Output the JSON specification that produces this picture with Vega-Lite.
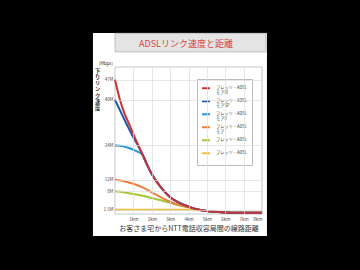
{
  "$schema": "https://vega.github.io/schema/vega-lite/v6.json",
  "width": 147,
  "height": 147,
  "autosize": {"type": "none"},
  "padding": {"left": 115, "top": 67, "right": 98, "bottom": 56},
  "background": "#000000",
  "config": {"font": "Noto Sans CJK JP", "view": {"stroke": null}, "axis": {"labelOverlap": false}},
  "layer": [
    {
      "data": {"values": [{}]},
      "mark": {"type": "rect", "fill": "#ffffff", "clip": false},
      "encoding": {
        "x": {"datum": -1.2, "type": "quantitative", "scale": {"domain": [0, 8], "nice": false, "zero": false}},
        "x2": {"datum": 8.27},
        "y": {"datum": -7.7, "type": "quantitative", "scale": {"domain": [0, 51.5], "nice": false}},
        "y2": {"datum": 63.4}
      }
    },
    {
      "data": {"values": [{}]},
      "mark": {"type": "rect", "fill": "#e4e4e4", "stroke": "#b0b0b0", "strokeWidth": 0.8, "clip": false},
      "encoding": {
        "x": {"datum": 0, "type": "quantitative", "scale": {"domain": [0, 8], "nice": false, "zero": false}},
        "x2": {"datum": 8.22},
        "y": {"datum": 56.8, "type": "quantitative", "scale": {"domain": [0, 51.5], "nice": false}},
        "y2": {"datum": 63.3}
      }
    },
    {
      "data": {"values": [{}]},
      "mark": {"type": "rect", "fill": "#ffffff", "stroke": "#b8b8b8", "strokeWidth": 0.8, "clip": false},
      "encoding": {
        "x": {"datum": 0, "type": "quantitative", "scale": {"domain": [0, 8], "nice": false, "zero": false}},
        "x2": {"datum": 8},
        "y": {"datum": 0, "type": "quantitative", "scale": {"domain": [0, 51.5], "nice": false}},
        "y2": {"datum": 51.5}
      }
    },
    {
      "data": {
        "values": [
          {"s": "1.5M", "km": 0, "v": 1.5}, {"s": "1.5M", "km": 1, "v": 1.5}, {"s": "1.5M", "km": 2, "v": 1.5}, {"s": "1.5M", "km": 3, "v": 1.5}, {"s": "1.5M", "km": 4, "v": 1.45}, {"s": "1.5M", "km": 4.5, "v": 1.35}, {"s": "1.5M", "km": 5, "v": 1.05}, {"s": "1.5M", "km": 5.5, "v": 0.75}, {"s": "1.5M", "km": 6, "v": 0.55}, {"s": "1.5M", "km": 7, "v": 0.45}, {"s": "1.5M", "km": 8, "v": 0.4},
          {"s": "8M", "km": 0, "v": 8}, {"s": "8M", "km": 0.5, "v": 7.6}, {"s": "8M", "km": 1, "v": 7.0}, {"s": "8M", "km": 1.5, "v": 6.4}, {"s": "8M", "km": 2, "v": 5.6}, {"s": "8M", "km": 2.5, "v": 4.8}, {"s": "8M", "km": 3, "v": 3.9}, {"s": "8M", "km": 3.5, "v": 3.0}, {"s": "8M", "km": 4, "v": 2.3}, {"s": "8M", "km": 4.5, "v": 1.6}, {"s": "8M", "km": 5, "v": 1.05}, {"s": "8M", "km": 5.5, "v": 0.75}, {"s": "8M", "km": 6, "v": 0.55}, {"s": "8M", "km": 7, "v": 0.45}, {"s": "8M", "km": 8, "v": 0.4},
          {"s": "12M", "km": 0, "v": 12}, {"s": "12M", "km": 0.5, "v": 11.5}, {"s": "12M", "km": 1, "v": 10.6}, {"s": "12M", "km": 1.5, "v": 9.3}, {"s": "12M", "km": 2, "v": 7.6}, {"s": "12M", "km": 2.5, "v": 5.8}, {"s": "12M", "km": 3, "v": 4.3}, {"s": "12M", "km": 3.5, "v": 3.1}, {"s": "12M", "km": 4, "v": 2.4}, {"s": "12M", "km": 4.5, "v": 1.6}, {"s": "12M", "km": 5, "v": 1.05}, {"s": "12M", "km": 5.5, "v": 0.75}, {"s": "12M", "km": 6, "v": 0.55}, {"s": "12M", "km": 7, "v": 0.45}, {"s": "12M", "km": 8, "v": 0.4},
          {"s": "24M", "km": 0, "v": 24}, {"s": "24M", "km": 0.25, "v": 23.9}, {"s": "24M", "km": 0.5, "v": 23.6}, {"s": "24M", "km": 0.75, "v": 23.1}, {"s": "24M", "km": 1, "v": 22.5}, {"s": "24M", "km": 1.25, "v": 21.8}, {"s": "24M", "km": 1.5, "v": 20.8}, {"s": "24M", "km": 1.75, "v": 17.2}, {"s": "24M", "km": 2, "v": 14}, {"s": "24M", "km": 2.5, "v": 9.3}, {"s": "24M", "km": 3, "v": 5.9}, {"s": "24M", "km": 3.5, "v": 3.9}, {"s": "24M", "km": 4, "v": 2.6}, {"s": "24M", "km": 4.5, "v": 1.6}, {"s": "24M", "km": 5, "v": 1.05}, {"s": "24M", "km": 5.5, "v": 0.75}, {"s": "24M", "km": 6, "v": 0.55}, {"s": "24M", "km": 7, "v": 0.45}, {"s": "24M", "km": 8, "v": 0.4},
          {"s": "40M", "km": 0, "v": 40}, {"s": "40M", "km": 0.35, "v": 35.3}, {"s": "40M", "km": 0.7, "v": 30.6}, {"s": "40M", "km": 1, "v": 26.8}, {"s": "40M", "km": 1.2, "v": 24.6}, {"s": "40M", "km": 1.5, "v": 20.8}, {"s": "40M", "km": 1.75, "v": 17.2}, {"s": "40M", "km": 2, "v": 14}, {"s": "40M", "km": 2.5, "v": 9.3}, {"s": "40M", "km": 3, "v": 5.9}, {"s": "40M", "km": 3.5, "v": 3.9}, {"s": "40M", "km": 4, "v": 2.6}, {"s": "40M", "km": 4.5, "v": 1.6}, {"s": "40M", "km": 5, "v": 1.05}, {"s": "40M", "km": 5.5, "v": 0.75}, {"s": "40M", "km": 6, "v": 0.55}, {"s": "40M", "km": 7, "v": 0.45}, {"s": "40M", "km": 8, "v": 0.4},
          {"s": "47M", "km": 0, "v": 47}, {"s": "47M", "km": 0.25, "v": 40.5}, {"s": "47M", "km": 0.5, "v": 35.5}, {"s": "47M", "km": 0.75, "v": 31.8}, {"s": "47M", "km": 1, "v": 28}, {"s": "47M", "km": 1.25, "v": 24.3}, {"s": "47M", "km": 1.5, "v": 20.8}, {"s": "47M", "km": 1.75, "v": 17.2}, {"s": "47M", "km": 2, "v": 14}, {"s": "47M", "km": 2.25, "v": 11.5}, {"s": "47M", "km": 2.5, "v": 9.3}, {"s": "47M", "km": 2.75, "v": 7.4}, {"s": "47M", "km": 3, "v": 5.9}, {"s": "47M", "km": 3.5, "v": 3.9}, {"s": "47M", "km": 4, "v": 2.6}, {"s": "47M", "km": 4.5, "v": 1.6}, {"s": "47M", "km": 5, "v": 1.05}, {"s": "47M", "km": 5.5, "v": 0.75}, {"s": "47M", "km": 6, "v": 0.55}, {"s": "47M", "km": 7, "v": 0.45}, {"s": "47M", "km": 8, "v": 0.4}
        ]
      },
      "mark": {"type": "line", "interpolate": "monotone", "strokeWidth": 2},
      "encoding": {
        "x": {
          "field": "km", "type": "quantitative",
          "title": "お客さま宅からNTT電話収容局間の線路距離",
          "scale": {"domain": [0, 8], "nice": false, "zero": false},
          "axis": {
            "values": [1, 2, 3, 4, 5, 6, 7, 8], "tickCount": 20,
            "labelExpr": "datum.value + 'km'",
            "labelFontSize": 4.5, "labelColor": "#444", "labelPadding": 2, "labelOverlap": false,
            "ticks": false, "domain": false,
            "grid": true, "gridColor": "#dddddd", "gridWidth": 0.7,
            "title": "お客さま宅からNTT電話収容局間の線路距離",
            "titleFontSize": 7, "titleFontWeight": "normal", "titleColor": "#333", "titlePadding": 4,
            "zindex": 1
          }
        },
        "y": {
          "field": "v", "type": "quantitative",
          "scale": {"domain": [0, 51.5], "nice": false},
          "axis": {
            "values": [1.5, 8, 12, 24, 40, 47], "tickCount": 20,
            "labelExpr": "datum.value + 'M'",
            "labelFontSize": 4.5, "labelColor": "#444", "labelPadding": 2, "labelOverlap": false,
            "ticks": false, "domain": false,
            "grid": true, "gridColor": "#dddddd", "gridWidth": 0.7,
            "title": ["下", "り", "", "リ", "ン", "ク", "速", "度"],
            "titleAngle": 0, "titleX": -18, "titleY": 1, "titleAlign": "center", "titleBaseline": "top",
            "titleFontSize": 5.2, "titleLineHeight": 6.3, "titleFontWeight": "bold", "titleColor": "#333",
            "zindex": 1
          }
        },
        "color": {
          "field": "s", "type": "nominal",
          "scale": {
            "domain": ["47M", "40M", "24M", "12M", "8M", "1.5M"],
            "range": ["#c8303a", "#1e5aa8", "#2596d6", "#ef7f3a", "#a5c63b", "#f3be3c"]
          },
          "legend": {
            "orient": "none", "legendX": 82, "legendY": 12, "title": null,
            "symbolType": "stroke", "symbolStrokeWidth": 2, "symbolSize": 64,
            "labelFontSize": 4.2, "labelColor": "#333", "labelOffset": 5,
            "fillColor": "#ffffff", "strokeColor": "#bbbbbb", "padding": 4, "rowPadding": 0,
            "clipHeight": 10.3,
            "labelExpr": "datum.label == '47M' ? ['フレッツ・ADSL', 'モアIII'] : datum.label == '40M' ? ['フレッツ・ADSL', 'モアSP'] : datum.label == '24M' ? ['フレッツ・ADSL', 'モアII'] : datum.label == '12M' ? ['フレッツ・ADSL', 'モア'] : ['フレッツ・ADSL', ' ']",
            "encode": {"labels": {"update": {"lineHeight": {"value": 4.8}}}}
          }
        }
      }
    },
    {
      "data": {"values": [{}]},
      "mark": {"type": "text", "text": "ADSLリンク速度と距離", "fontSize": 9, "color": "#d8453c", "align": "center", "baseline": "middle"},
      "encoding": {
        "x": {"datum": 3.86, "type": "quantitative", "scale": {"domain": [0, 8], "nice": false, "zero": false}},
        "y": {"datum": 59.6, "type": "quantitative", "scale": {"domain": [0, 51.5], "nice": false}}
      }
    },
    {
      "data": {"values": [{}]},
      "mark": {"type": "text", "text": "(Mbps)", "fontSize": 4.5, "color": "#333", "align": "center", "baseline": "middle"},
      "encoding": {
        "x": {"datum": -0.5, "type": "quantitative", "scale": {"domain": [0, 8], "nice": false, "zero": false}},
        "y": {"datum": 52.6, "type": "quantitative", "scale": {"domain": [0, 51.5], "nice": false}}
      }
    }
  ]
}
